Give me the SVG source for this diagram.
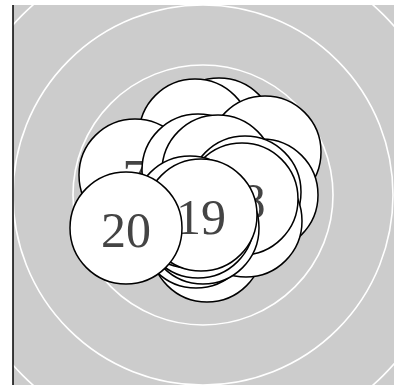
<svg xmlns="http://www.w3.org/2000/svg" width="395" height="385" viewBox="0 0 395 385">
<style>
.ring{fill:none;stroke:#fff;stroke-width:1.6}
.node circle{fill:#fff;stroke:#000;stroke-width:1.5}
.node text{font-family:"Liberation Serif","Times New Roman",serif;font-size:50px;fill:#444;text-anchor:middle}
</style>
<defs><clipPath id="c"><rect x="13" y="5" width="381" height="380"/></clipPath></defs>
<rect x="13" y="5" width="381" height="380" fill="#cccccc"/>
<g clip-path="url(#c)">
<circle class="ring" cx="203" cy="195" r="130"/>
<circle class="ring" cx="203" cy="195" r="190"/>
<circle class="ring" cx="203" cy="195" r="255"/>
</g>
<line x1="13" y1="5" x2="13" y2="385" stroke="#000" stroke-width="1.5"/>
<g id="connectors"></g>
<g id="nodes">
<g class="node" id="n1"><circle cx="219" cy="134" r="56"/></g>
<g class="node" id="n2"><circle cx="195" cy="135" r="56"/></g>
<g class="node" id="n3"><circle cx="265" cy="152" r="56"/></g>
<g class="node" id="n7"><circle cx="135" cy="175" r="56"/><text x="135" y="194">7</text></g>
<g class="node" id="n5"><circle cx="198" cy="170" r="56"/></g>
<g class="node" id="n6"><circle cx="218" cy="171" r="56"/></g>
<g class="node" id="n8"><circle cx="262" cy="195" r="56"/></g>
<g class="node" id="n9"><circle cx="245" cy="192" r="56"/></g>
<g class="node" id="n10"><circle cx="207" cy="246" r="56"/></g>
<g class="node" id="n11"><circle cx="246" cy="221" r="56"/></g>
<g class="node" id="n18"><circle cx="242" cy="199" r="56"/><text x="253" y="218">8</text></g>
<g class="node" id="n12"><circle cx="196" cy="232" r="56"/></g>
<g class="node" id="n13"><circle cx="203" cy="228" r="56"/></g>
<g class="node" id="n14"><circle cx="198" cy="222" r="56"/></g>
<g class="node" id="n15"><circle cx="190" cy="212" r="56"/></g>
<g class="node" id="n19"><circle cx="201" cy="215" r="56"/><text x="201" y="234">19</text></g>
<g class="node" id="n20"><circle cx="126" cy="228" r="56"/><text x="126" y="247">20</text></g>
</g>
</svg>
